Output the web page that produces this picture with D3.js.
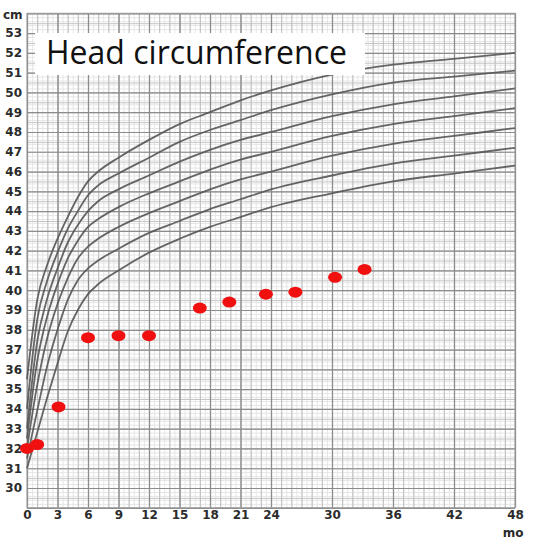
<!DOCTYPE html>
<html>
<head>
<meta charset="utf-8">
<script src="https://cdn.jsdelivr.net/npm/d3@7"></script>
<style>
  html, body { margin: 0; padding: 0; background: #fff; }
  svg { display: block; }
  .lbl text { font-family: "DejaVu Sans", sans-serif; font-size: 12px; font-weight: bold; fill: #2b2b2b; }
</style>
</head>
<body>
<script>
var xTicks = [0, 3, 6, 9, 12, 15, 18, 21, 24, 30, 36, 42, 48];
var yTicks = [30, 31, 32, 33, 34, 35, 36, 37, 38, 39, 40, 41, 42, 43, 44, 45, 46, 47, 48, 49, 50, 51, 52, 53];

// months where the reference curves are read
var curveMonths = [0, 1, 2, 3, 4, 5, 6, 7, 9, 12, 15, 18, 21, 24, 30, 36, 42, 48];
var curve1 = [31.0, 32.8, 34.6, 36.3, 37.9, 39.0, 39.8, 40.3, 41.0, 41.9, 42.6, 43.2, 43.7, 44.2, 44.9, 45.5, 45.9, 46.3];
var curve2 = [31.5, 33.9, 36.2, 38.0, 39.5, 40.5, 41.1, 41.5, 42.1, 42.9, 43.5, 44.1, 44.6, 45.1, 45.8, 46.4, 46.8, 47.2];
var curve3 = [32.0, 35.2, 37.6, 39.3, 40.6, 41.6, 42.2, 42.6, 43.2, 43.9, 44.5, 45.1, 45.6, 46.0, 46.8, 47.4, 47.8, 48.2];
var curve4 = [32.5, 36.4, 38.7, 40.3, 41.6, 42.5, 43.2, 43.6, 44.2, 44.9, 45.5, 46.1, 46.6, 47.0, 47.8, 48.4, 48.8, 49.2];
var curve5 = [33.0, 37.4, 39.6, 41.1, 42.4, 43.3, 44.0, 44.5, 45.1, 45.8, 46.5, 47.1, 47.6, 48.0, 48.8, 49.4, 49.8, 50.2];
var curve6 = [34.0, 38.5, 40.5, 41.9, 43.1, 44.0, 44.8, 45.3, 45.9, 46.7, 47.5, 48.1, 48.6, 49.1, 49.9, 50.5, 50.8, 51.1];
var curve7 = [35.5, 39.5, 41.3, 42.6, 43.7, 44.7, 45.5, 46.0, 46.7, 47.6, 48.4, 49.0, 49.6, 50.1, 50.9, 51.4, 51.7, 52.0];

// measured child
var childMonths = [0, 1.0, 3.1, 6.0, 9.0, 12.0, 17.0, 19.9, 23.5, 26.4, 30.3, 33.2];
var childHead   = [32.0, 32.2, 34.1, 37.6, 37.7, 37.7, 39.1, 39.4, 39.8, 39.9, 40.65, 41.05];

var width = 538, height = 541;
var x = d3.scaleLinear().domain([0, 48]).range([27, 515]);
var y = d3.scaleLinear().domain([29, 54]).range([507.8, 13.3]);

var svg = d3.select('body').append('svg')
    .attr('width', width)
    .attr('height', height)
    ;

var grid = svg.append('g');

function vLines(step, color, w, skip) {
  var vals = d3.range(0, 48 + 1e-6, step).filter(function(v) { return !skip || !skip(v); });
  grid.append('g')
      .attr('transform', 'translate(0,' + y(29) + ')')
      .call(d3.axisBottom(x).tickValues(vals).tickSize(y(54) - y(29)).tickFormat(''))
      .call(function(g) { g.select('.domain').remove(); })
      .selectAll('line')
      .attr('stroke', color)
      .attr('stroke-width', w)
      ;
}

function hLines(step, color, w) {
  var vals = d3.range(29, 54 + 1e-6, step);
  grid.append('g')
      .attr('transform', 'translate(' + x(0) + ',0)')
      .call(d3.axisLeft(y).tickValues(vals).tickSize(x(0) - x(48)).tickFormat(''))
      .call(function(g) { g.select('.domain').remove(); })
      .selectAll('line')
      .attr('stroke', color)
      .attr('stroke-width', w)
      ;
}

hLines(0.2, '#e6e6e6', 1);
vLines(0.5, '#e6e6e6', 1);
hLines(0.5, '#c4c4c4', 1);
vLines(1, '#bdbdbd', 1);
hLines(1, '#8c8c8c', 1.2);
vLines(1, '#8c8c8c', 1.3, function(v) { return xTicks.indexOf(Math.round(v)) < 0 || v !== Math.round(v); });

grid.append('rect')
    .attr('x', x(0))
    .attr('y', y(54))
    .attr('width', x(48) - x(0))
    .attr('height', y(29) - y(54))
    .attr('fill', 'none')
    .attr('stroke', '#9a9a9a')
    .attr('stroke-width', 1)
    ;

var line = d3.line()
    .x(function(d) { return x(d[0]); })
    .y(function(d) { return y(d[1]); })
    .curve(d3.curveMonotoneX)
    ;

var curves = [curve1, curve2, curve3, curve4, curve5, curve6, curve7];
svg.append('g').selectAll('path')
    .data(curves)
    .enter()
    .append('path')
    .attr('d', function(c) { return line(c.map(function(v, i) { return [curveMonths[i], v]; })); })
    .attr('fill', 'none')
    .attr('stroke', '#555')
    .attr('stroke-width', 1.8)
    .attr('opacity', 0.9)
    ;

// title box
svg.append('rect')
    .attr('x', 35)
    .attr('y', 33)
    .attr('width', 330)
    .attr('height', 42)
    .attr('fill', '#fff')
    ;
var title = svg.append('text')
    .attr('x', 46)
    .attr('y', 64)
    .attr('font-family', '"Open Sans", sans-serif')
    .attr('font-size', 27)
    .attr('fill', '#111')
    .text('Head circumference')
    ;
var tw = title.node().getComputedTextLength();
title.attr('font-size', 27 * 301 / tw);

// axes labels
svg.append('g')
    .attr('class', 'lbl')
    .attr('transform', 'translate(' + (x(0) - 4) + ',0)')
    .call(d3.axisLeft(y).tickValues(yTicks).tickSize(0).tickPadding(1).tickFormat(d3.format('d')))
    .call(function(g) { g.select('.domain').remove(); })
    ;
svg.append('g')
    .attr('class', 'lbl')
    .attr('transform', 'translate(0,' + (y(29) + 1) + ')')
    .call(d3.axisBottom(x).tickValues(xTicks).tickSize(0).tickPadding(2).tickFormat(d3.format('d')))
    .call(function(g) { g.select('.domain').remove(); })
    ;

svg.append('g').attr('class', 'lbl')
    .append('text')
    .attr('x', 3)
    .attr('y', 19)
    .attr('font-size', 11)
    .text('cm')
    ;
svg.append('g').attr('class', 'lbl')
    .append('text')
    .attr('x', 513)
    .attr('y', 537)
    .attr('text-anchor', 'middle')
    .text('mo')
    ;

// child measurements
svg.append('g').selectAll('ellipse')
    .data(childMonths)
    .enter()
    .append('ellipse')
    .attr('cx', function(d) { return x(d); })
    .attr('cy', function(d, i) { return y(childHead[i]); })
    .attr('rx', 7)
    .attr('ry', 5.5)
    .attr('fill', '#f01010')
    ;
</script>
</body>
</html>
